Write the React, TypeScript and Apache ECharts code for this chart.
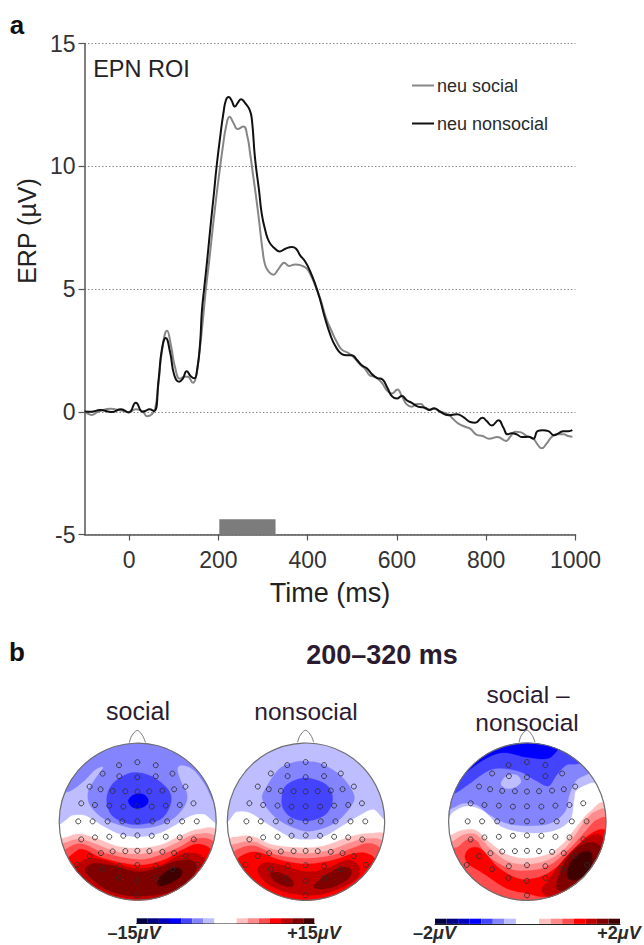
import React, { useEffect, useRef } from "react";
import * as echarts from "echarts";

type P = number[];

// ---------- Panel a: ERP values, [time ms, amplitude µV] ----------
const socialErp: P[] = [
  [-100,-0.01],[-92,-0.08],[-83,-0.13],[-75,-0.05],[-65,0.03],[-42,0.12],[-18,0.05],[-1,-0.01],[15,0.1],[30,0.02],
  [40,-0.18],[51,-0.1],[58,0.1],[66,1.2],[73,2.4],[85,3.3],[94,2.67],[103,1.8],[114,1.34],[123,1.43],[131,1.43],
  [143,1.18],[150,1.45],[158,2.5],[165,3.7],[172,5],[180,6.25],[188,7.6],[196,8.85],[204,10],[210,10.8],[217,11.6],[225,12.02],
  [234,11.75],[243,11.52],[256,11.62],[265,11.2],[271,10.53],[278,9.6],[284,8.8],[291,7.8],[299,6.57],[305,5.96],
  [313.7,5.69],[323.4,5.58],[332.4,5.76],[342,6.0],[347,6.07],[359,5.94],[372,6.0],[387,5.95],[398,5.83],[407,5.56],
  [416.7,5.15],[428,4.62],[441.4,3.81],[454,3.27],[465.3,2.84],[476.5,2.53],[491.4,2.39],[502.6,2.23],[517.6,1.92],
  [528.8,1.74],[540,1.47],[551,1.42],[566,1.18],[578.8,0.84],[588.5,0.74],[601,0.91],[610.9,0.64],[622,0.3],
  [633.3,0.2],[644.5,0.32],[653.4,0.32],[663,0.14],[673,0.09],[683,0.12],[697,0],[715.5,-0.11],[726.6,-0.31],
  [737.8,-0.48],[752.8,-0.61],[764,-0.69],[779,-0.94],[792,-0.99],[806.5,-1.1],[825,-1.03],[844.6,-1.19],[853.6,-1.02],
  [864.8,-0.81],[876,-0.83],[891,-0.99],[905.8,-1.1],[914.8,-1.33],[924.5,-1.49],[934,-1.33],[947,-1.02],[958,-0.92],
  [973,-0.92],[984,-0.99],[993,-1.02],
];
const nonsocialErp: P[] = [
  [-100,0.01],[-85,0.0],[-65,0.07],[-39,-0.01],[-18,0.1],[-1,-0.03],[15,0.37],[30,0],[37,0.04],[45,0.1],[56,0.03],
  [66,1.3],[73,2.5],[82,3.0],[92,2.4],[101,1.5],[112,1.22],[120,1.34],[129,1.65],[138,1.45],[146,1.36],[153,1.8],
  [159,2.8],[163,4.1],[168,5],[175,6.2],[182,7.5],[190,8.9],[196,10],[204,11.2],[211.5,12.2],[217,12.7],[223,12.82],[229,12.7],
  [237,12.43],[243,12.57],[251,12.73],[260,12.57],[270,12.3],[275,11.9],[282,10.33],[291,9.02],[297,8.07],[305,7.39],
  [314,6.91],[327,6.64],[337,6.53],[350,6.64],[364.5,6.71],[374,6.64],[383,6.37],[394,6.13],[405.6,5.72],[416.8,5.2],
  [428,4.55],[439,3.8],[450.4,3.15],[461.6,2.69],[476.5,2.35],[487.7,2.3],[498.9,2.3],[510,2.12],[521.3,1.89],
  [532.5,1.77],[543.7,1.54],[555,1.38],[567.6,1.31],[578.8,0.97],[588.5,0.64],[599.7,0.54],[610.9,0.64],[622,0.47],
  [633.3,0.36],[644.5,0.23],[652,0.19],[663,0.16],[673,0.07],[683,0.14],[697,0],[715.5,-0.14],[734,-0.1],[749,-0.22],
  [764,-0.42],[775,-0.45],[791.6,-0.24],[801,-0.38],[812.5,-0.56],[827.4,-0.35],[838.6,-0.65],[847.6,-0.92],[857,-0.88],
  [868.5,-0.92],[879.7,-1.03],[894.6,-1.02],[905.8,-1.1],[914.8,-0.79],[926.7,-0.75],[939.4,-0.79],[952,-0.96],
  [961.8,-0.88],[973,-0.79],[984,-0.79],[993,-0.75],
];
const xTickValues = [0, 200, 400, 600, 800, 1000];
const yTickValues = [-5, 0, 5, 10, 15];
const analysisWindow = { start: 202, end: 328, floor: -5, top: -4.38 };

// ---------- Panel b: scalp maps, contours traced in a per-map unit ----------
const B1 = "#bdbdff", B2 = "#8484ff", B3 = "#4444ff", B4 = "#0000ff";
const R1 = "#ffc0c0", R2 = "#ff8c8c", R3 = "#ff4c4c", R4 = "#ff0000", R5 = "#bf0000", R6 = "#800000", R7 = "#400000";
const cbarColors = ["#000040","#000080","#0000bf",B4,B3,B2,B1,"#ffffff","#ffffff",R1,R2,R3,R4,R5,R6,R7];

const unit = (cx: number, cy: number, r: number) => (pts: P[]) => pts.map(([x, y]) => [(x - cx) / r, (cy - y) / r]);
const uS = unit(293, 395, 235);
const uN = unit(288, 395, 236);
const uD = unit(322, 425, 236);

const socialContours: [string, P[]][] = [
  [B1, uS([[40,385],[100,375],[140,378],[190,408],[240,432],[293,440],[350,432],[400,408],[450,378],[490,372],[550,385],[560,100],[30,100]])],
  [B2, uS([[40,300],[85,305],[130,275],[165,240],[190,232],[165,268],[145,305],[150,345],[190,385],[250,408],[293,415],[350,408],[400,385],[435,345],[440,310],[425,280],[412,240],[425,226],[460,240],[495,285],[525,340],[560,330],[500,100],[100,100]])],
  [B3, uS([[200,330],[215,285],[255,255],[293,248],[340,262],[385,300],[392,340],[365,385],[310,402],[260,400],[215,375]])],
  [B4, uS([[265,333],[275,318],[295,311],[315,316],[325,333],[315,348],[295,355],[275,350]])],
  [R1, uS([[50,465],[85,440],[120,432],[170,445],[230,468],[293,474],[360,465],[420,438],[475,418],[540,430],[600,600],[293,700],[0,600]])],
  [R2, uS([[50,480],[85,455],[125,448],[175,465],[230,485],[293,492],[355,482],[410,458],[470,432],[535,450],[600,600],[293,700],[0,600]])],
  [R3, uS([[60,500],[90,470],[130,462],[190,488],[293,508],[360,495],[420,470],[470,445],[530,465],[600,600],[293,700],[0,600]])],
  [R4, uS([[70,520],[100,490],[130,478],[190,505],[293,525],[370,510],[425,480],[475,462],[525,490],[600,600],[293,700],[0,600]])],
  [R5, uS([[105,540],[140,505],[190,510],[240,525],[293,535],[360,525],[420,495],[470,490],[497,515],[470,560],[420,600],[350,625],[293,627],[220,615],[150,580]])],
  [R6, uS([[135,540],[160,520],[210,525],[293,545],[350,535],[400,515],[450,510],[470,530],[450,565],[390,605],[293,618],[215,605],[160,570]])],
  [R7, uS([[352,578],[370,550],[405,533],[425,540],[420,560],[385,582],[360,587]])],
];
const nonsocialContours: [string, P[]][] = [
  [B1, uN([[40,380],[80,365],[120,368],[170,400],[240,440],[288,448],[340,440],[400,405],[450,375],[490,358],[540,375],[560,100],[20,100]])],
  [B2, uN([[158,330],[170,290],[210,235],[260,215],[288,215],[330,220],[390,255],[430,310],[425,345],[380,395],[320,420],[270,420],[200,385]])],
  [B3, uN([[215,330],[225,290],[262,268],[300,265],[350,285],[368,325],[350,370],[300,392],[250,385],[222,360]])],
  [R1, uN([[50,460],[85,440],[130,440],[190,465],[288,473],[350,465],[420,440],[480,430],[540,445],[600,600],[288,700],[0,600]])],
  [R2, uN([[55,480],[85,460],[130,455],[190,478],[288,490],[360,480],[420,458],[475,445],[530,465],[600,600],[288,700],[0,600]])],
  [R3, uN([[60,500],[90,475],[135,468],[200,495],[288,505],[370,495],[425,475],[480,460],[525,490],[600,600],[288,700],[0,600]])],
  [R4, uN([[70,520],[110,490],[150,488],[210,510],[288,522],[370,510],[425,492],[470,490],[510,520],[600,620],[288,700],[0,620]])],
  [R5, uN([[143,540],[165,518],[215,525],[288,545],[350,535],[410,510],[445,525],[445,560],[400,590],[340,612],[288,615],[220,605],[165,575]])],
  [R6, uN([[180,552],[195,545],[225,555],[250,575],[245,590],[215,585],[190,570]])],
  [R6, uN([[310,590],[340,560],[385,535],[420,535],[420,560],[385,585],[340,597]])],
];
const differenceContours: [string, P[]][] = [
  [B1, uD([[60,420],[100,395],[140,378],[190,392],[245,440],[322,458],[400,452],[450,420],[462,360],[470,330],[515,308],[560,300],[560,100],[60,100]])],
  [B2, uD([[50,395],[95,385],[130,370],[170,375],[210,405],[260,430],[322,437],[390,430],[435,395],[448,345],[470,300],[520,270],[560,200],[322,100],[60,200]])],
  [B3, uD([[60,355],[105,340],[150,310],[200,275],[240,265],[300,275],[345,300],[385,318],[410,285],[440,255],[480,250],[540,220],[322,100],[100,200]])],
  [B1, uD([[243,310],[260,288],[290,285],[303,305],[285,322],[258,325]])],
  [B4, uD([[110,310],[130,285],[190,240],[250,218],[320,232],[385,235],[420,205],[480,180],[322,150],[100,220]])],
  [R1, uD([[60,490],[95,465],[130,450],[170,452],[215,492],[265,525],[322,535],[385,522],[430,490],[470,440],[510,395],[560,372],[620,500],[322,700],[60,600]])],
  [R2, uD([[70,510],[105,480],[135,463],[170,465],[215,510],[265,545],[322,553],[385,540],[440,500],[490,430],[525,395],[570,395],[620,500],[322,720],[70,620]])],
  [R3, uD([[80,520],[115,500],[140,480],[170,482],[200,525],[265,565],[322,572],[385,558],[445,510],[495,455],[530,420],[570,420],[620,520],[322,720],[80,620]])],
  [R4, uD([[135,530],[150,505],[185,508],[230,558],[280,590],[322,598],[380,582],[440,535],[500,470],[555,450],[570,520],[520,590],[440,640],[370,650],[322,640],[260,625],[190,580],[150,555]])],
  [R5, uD([[365,630],[385,600],[430,540],[480,490],[530,462],[555,490],[540,560],[480,620],[420,650],[385,650]])],
  [R6, uD([[410,625],[415,590],[445,530],[490,492],[530,490],[548,520],[520,590],[460,635],[425,632]])],
  [R7, uD([[442,590],[450,550],[480,520],[510,515],[517,545],[500,580],[465,600]])],
];
const noseOutline: P[] = uS([[268,158],[275,138],[292,122],[308,138],[316,158]]);
const electrodes: P[] = uS([
  [292,217],[237,226],[347,226],[188,251],[397,251],[238,259],[347,259],[292,262],
  [149,290],[436,290],[182,298],[402,298],[218,303],[256,304],[292,305],[328,304],[367,302],
  [124,340],[165,345],[208,347],[250,350],[292,349],[335,350],[377,347],[419,345],[460,340],
  [115,394],[158,394],[203,394],[247,394],[292,394],[337,394],[381,394],[426,394],[470,394],
  [124,448],[165,442],[208,440],[250,437],[292,436],[335,437],[377,440],[419,442],[461,448],
  [149,498],[183,489],[218,484],[256,483],[292,482],[328,483],[367,485],[402,489],[436,498],
  [112,524],[188,537],[238,528],[292,525],[347,528],[397,537],[472,524],
  [237,563],[292,572],[347,563],[292,615],
]);

// closed Catmull-Rom through the traced points, then kept inside the head circle
function smoothClamped(pts: P[], steps = 12): P[] {
  const n = pts.length, out: P[] = [];
  for (let i = 0; i < n; i++) {
    const a = pts[(i - 1 + n) % n], b = pts[i], c = pts[(i + 1) % n], d = pts[(i + 2) % n];
    for (let k = 0; k < steps; k++) {
      const t = k / steps, t2 = t * t, t3 = t2 * t;
      const f = (j: number) => 0.5 * (2 * b[j] + (c[j] - a[j]) * t + (2 * a[j] - 5 * b[j] + 4 * c[j] - d[j]) * t2 + (3 * b[j] - a[j] - 3 * c[j] + d[j]) * t3);
      const x = f(0), y = f(1), r = Math.hypot(x, y);
      out.push(r > 1 ? [x / r, y / r] : [x, y]);
    }
  }
  return out;
}

function openCurve(pts: P[], steps = 8): P[] {
  const out: P[] = [];
  for (let i = 0; i < pts.length - 1; i++) {
    const a = pts[Math.max(i - 1, 0)], b = pts[i], c = pts[i + 1], d = pts[Math.min(i + 2, pts.length - 1)];
    for (let k = 0; k <= steps; k++) {
      const t = k / steps, t2 = t * t, t3 = t2 * t;
      out.push([0, 1].map((j) => 0.5 * (2 * b[j] + (c[j] - a[j]) * t + (2 * a[j] - 5 * b[j] + 4 * c[j] - d[j]) * t2 + (3 * b[j] - a[j] - 3 * c[j] + d[j]) * t3)));
    }
  }
  return out;
}

const FONT = "'Liberation Sans', Arial, sans-serif";
const INK = "#2b1b30";
const AXIS = "#555555";

const maps = [
  { contours: socialContours, cx: 137.7, cy: 821.7, r: 78.5 },
  { contours: nonsocialContours, cx: 306, cy: 821.7, r: 78.7 },
  { contours: differenceContours, cx: 527.3, cy: 821.7, r: 78.7 },
];
const bars = [
  { left: 136.7, width: 177.6, top: 918.3, height: 5.2 },
  { left: 435, width: 185, top: 918.7, height: 5.2 },
];

function buildOption() {
  const grid: any[] = [{ left: 84.5, top: 43.5, width: 491, height: 491 }];
  const xAxis: any[] = [{
    type: "value", min: -100, max: 1000, gridIndex: 0,
    axisLine: { onZero: false, lineStyle: { color: AXIS, width: 1.5 } },
    axisTick: { length: 6, customValues: xTickValues, lineStyle: { color: AXIS, width: 1.2 } },
    axisLabel: { customValues: xTickValues, fontSize: 23, color: "#333", fontFamily: FONT, margin: 14, formatter: (v: number) => String(v) },
    splitLine: { show: false },
    name: "Time (ms)", nameLocation: "middle", nameGap: 45,
    nameTextStyle: { fontSize: 27, color: "#222", fontFamily: FONT },
  }];
  const yAxis: any[] = [{
    type: "value", min: -5, max: 15, interval: 5, gridIndex: 0,
    axisLine: { onZero: false, lineStyle: { color: AXIS, width: 1.5 } },
    axisTick: { length: 6, lineStyle: { color: AXIS, width: 1.2 } },
    axisLabel: { customValues: yTickValues, fontSize: 23, color: "#333", fontFamily: FONT, margin: 9 },
    splitLine: { show: true, lineStyle: { color: "#8c8c8c", type: [1.5, 2], width: 1 } },
    name: "ERP (µV)", nameLocation: "middle", nameGap: 43,
    nameTextStyle: { fontSize: 25, color: "#222", fontFamily: FONT, padding: [0, 0, 0, 116] },
  }];
  const series: any[] = [
    { name: "neu social", type: "line", xAxisIndex: 0, yAxisIndex: 0, data: socialErp, showSymbol: false, smooth: 0.5, lineStyle: { color: "#868686", width: 2 }, itemStyle: { color: "#868686" } },
    {
      name: "neu nonsocial", type: "line", xAxisIndex: 0, yAxisIndex: 0, data: nonsocialErp, showSymbol: false, smooth: 0.5, lineStyle: { color: "#111111", width: 2 }, itemStyle: { color: "#111111" },
      markArea: {
        silent: true, itemStyle: { color: "#7c7c7c" },
        data: [[{ coord: [analysisWindow.start, analysisWindow.floor] }, { coord: [analysisWindow.end, analysisWindow.top] }]],
      },
    },
  ];

  maps.forEach((m, idx) => {
    const g = idx + 1;
    grid.push({ left: m.cx - m.r, top: m.cy - m.r, width: 2 * m.r, height: 2 * m.r });
    xAxis.push({ type: "value", gridIndex: g, min: -1, max: 1, show: false });
    yAxis.push({ type: "value", gridIndex: g, min: -1, max: 1, show: false });
    const rings = m.contours.map(([color, pts]) => ({ color, pts: smoothClamped(pts) }));
    series.push({
      type: "custom", xAxisIndex: g, yAxisIndex: g, clip: false, silent: true,
      data: rings.map((_, i) => [i]),
      renderItem: (p: any, api: any) => {
        const ring = rings[p.dataIndex];
        return { type: "polygon", shape: { points: ring.pts.map((q) => api.coord(q)) }, style: { fill: ring.color, stroke: ring.color, lineWidth: 0.3 } };
      },
    });
    const nose = openCurve(noseOutline);
    series.push({
      type: "custom", xAxisIndex: g, yAxisIndex: g, clip: false, silent: true, z: 3,
      data: [[0, 0]],
      renderItem: (_: any, api: any) => {
        const c = api.coord([0, 0]);
        const r = api.size([2, 0])[0] / 2;
        return {
          type: "group", children: [
            { type: "circle", shape: { cx: c[0], cy: c[1], r }, style: { fill: "none", stroke: "#6e6e6e", lineWidth: 1.2 } },
            { type: "polyline", shape: { points: nose.map((q) => api.coord(q)) }, style: { fill: "none", stroke: "#6e6e6e", lineWidth: 1 } },
          ],
        };
      },
    });
    series.push({
      type: "scatter", xAxisIndex: g, yAxisIndex: g, data: electrodes, symbol: "circle", symbolSize: 5, z: 4, silent: true,
      itemStyle: { color: "rgba(255,255,255,0)", borderColor: "#2e2e2e", borderWidth: 1, opacity: 0.85 },
    });
  });

  bars.forEach((b, idx) => {
    const g = idx + 4;
    grid.push({ left: b.left, top: b.top, width: b.width, height: b.height });
    xAxis.push({ type: "value", gridIndex: g, min: 0, max: cbarColors.length, axisLine: { onZero: false, lineStyle: { color: "#222", width: 1 } }, axisTick: { show: false }, axisLabel: { show: false }, splitLine: { show: false } });
    yAxis.push({ type: "value", gridIndex: g, min: 0, max: 1, show: false });
    series.push({
      type: "custom", xAxisIndex: g, yAxisIndex: g, silent: true,
      data: cbarColors.map((_, i) => [i]),
      renderItem: (p: any, api: any) => {
        const i = p.dataIndex;
        const a = api.coord([i, 1]), z = api.coord([i + 1, 0]);
        return { type: "rect", shape: { x: a[0], y: a[1], width: z[0] - a[0], height: z[1] - a[1] }, style: { fill: cbarColors[i] } };
      },
    });
  });

  const text = (t: string, x: number, y: number, size: number, extra: any = {}) => ({
    type: "text", x, y, silent: true,
    style: { text: t, fontSize: size, fontFamily: FONT, fill: INK, textAlign: "center", textVerticalAlign: "middle", ...extra },
  });
  const scaleLabel = (num: string, x: number, y: number) => ({
    type: "text", x, y, silent: true,
    style: {
      text: `{n|${num}}{u|μV}`, textAlign: "center", textVerticalAlign: "middle",
      rich: {
        n: { fontSize: 18, fontWeight: "bold", fontFamily: FONT, fill: "#2a2a2a", color: "#2a2a2a" },
        u: { fontSize: 18, fontWeight: "bold", fontStyle: "italic", fontFamily: FONT, fill: "#2a2a2a", color: "#2a2a2a" },
      },
    },
  });

  return {
    animation: false,
    backgroundColor: "#ffffff",
    grid, xAxis, yAxis, series,
    legend: {
      data: ["neu social", "neu nonsocial"], orient: "vertical", left: 412, top: 76.5, itemWidth: 22, itemHeight: 2, itemGap: 20,
      icon: "rect", selectedMode: false, padding: 0,
      textStyle: { fontSize: 18, color: "#2a2a2a", fontFamily: FONT, padding: [0, 0, 0, -2] },
    },
    graphic: [
      text("a", 17, 25, 26, { fontWeight: "bold", fill: "#111" }),
      text("b", 17, 652, 26, { fontWeight: "bold", fill: "#111" }),
      text("EPN ROI", 141.5, 69, 23.5, { fill: "#222" }),
      text("200–320 ms", 382, 655, 27, { fontWeight: "bold" }),
      text("social", 138, 711, 25),
      text("nonsocial", 306, 711, 24.5),
      text("social –", 528, 694, 24.5),
      text("nonsocial", 527, 722, 24.5),
      scaleLabel("–15", 134, 933),
      scaleLabel("+15", 314, 933),
      scaleLabel("–2", 434.5, 933),
      scaleLabel("+2", 619, 933),
    ],
  };
}

export default function App() {
  const ref = useRef<HTMLDivElement>(null);
  useEffect(() => {
    const chart = echarts.init(ref.current!, undefined, { renderer: "svg" });
    chart.setOption(buildOption() as any);
    return () => chart.dispose();
  }, []);
  return <div ref={ref} style={{ position: "fixed", left: 0, top: 0, width: 644, height: 945 }} />;
}
